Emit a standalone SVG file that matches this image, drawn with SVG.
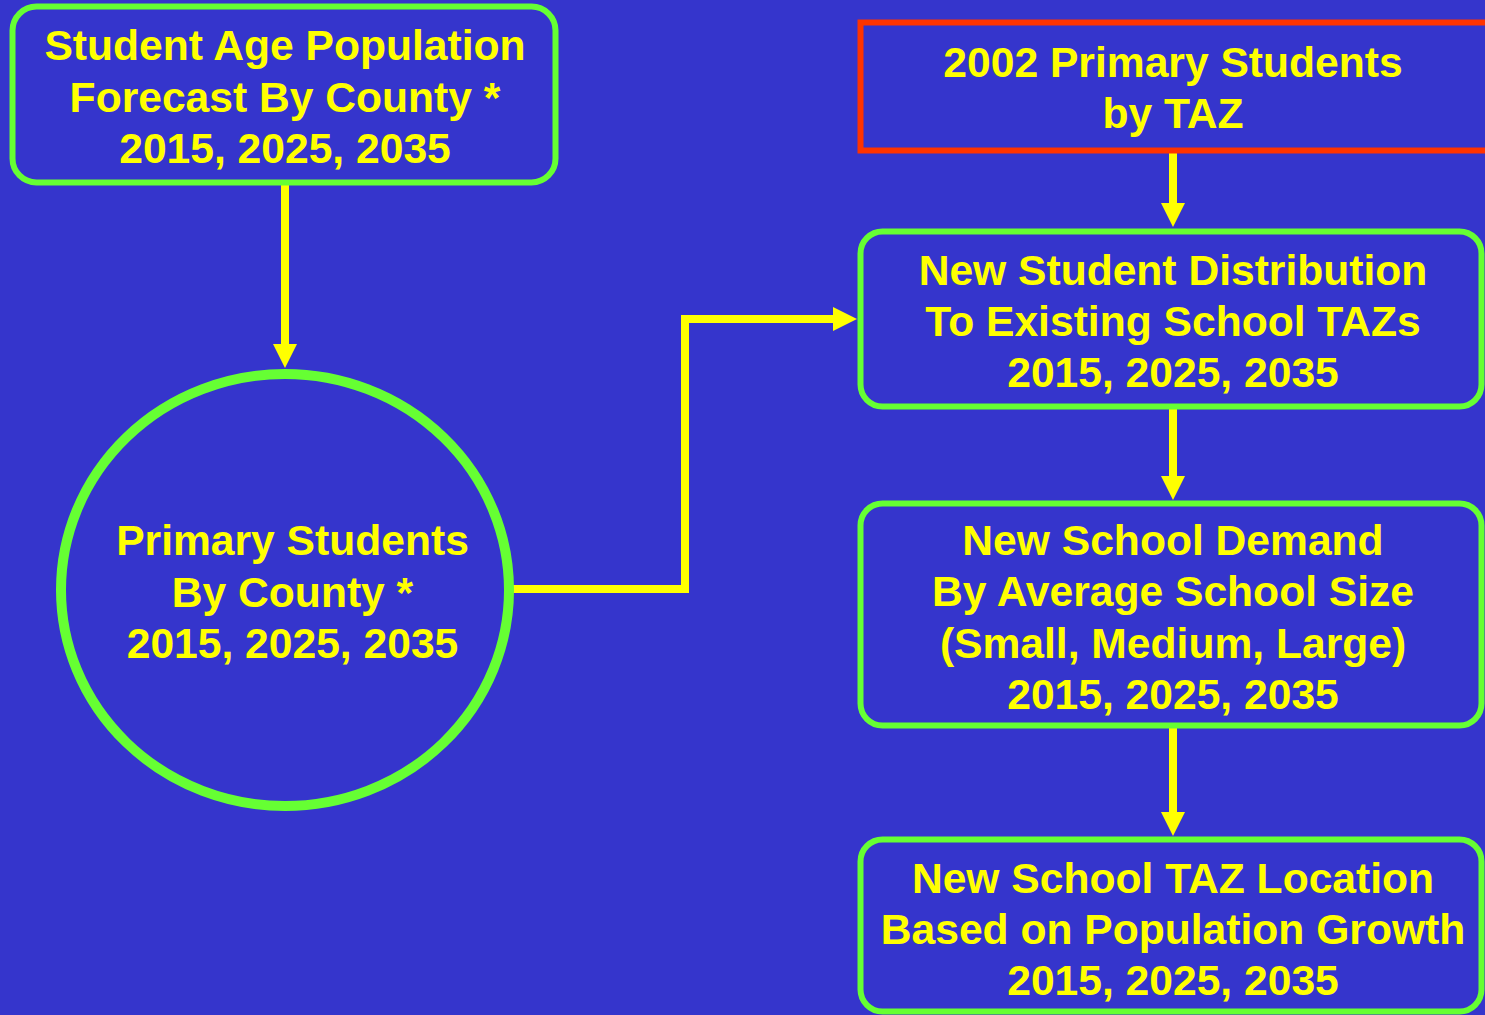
<svg xmlns="http://www.w3.org/2000/svg" width="1485" height="1015" viewBox="0 0 1485 1015">
  <style>
    .box { fill: #3535CC; stroke: #66FF33; stroke-width: 6; }
    .src { fill: #3535CC; stroke: #FF3300; stroke-width: 6; }
    .ring { fill: none; stroke: #66FF33; stroke-width: 10; }
    .lbl { font-family: "Liberation Sans", Arial, sans-serif; font-weight: bold; font-size: 42.6px; fill: #FFFF00; text-anchor: middle; }
    .wire { fill: none; stroke: #FFFF00; stroke-width: 8; stroke-linejoin: miter; }
  </style>
  <defs>
    <!-- arrowhead starts where the wire ends, tip 24px further on -->
    <marker id="head" markerUnits="userSpaceOnUse" markerWidth="26" markerHeight="26" refX="0" refY="12" orient="auto">
      <path d="M0,0 L24,12 L0,24 Z" fill="#FFFF00"/>
    </marker>
  </defs>
  <rect width="1485" height="1015" fill="#3535CC"/>

  <g id="connectors">
    <path class="wire" d="M285,183 V344" marker-end="url(#head)"/>
    <path class="wire" d="M509,589 H685 V319 H833" marker-end="url(#head)"/>
    <path class="wire" d="M1173,152 V203" marker-end="url(#head)"/>
    <path class="wire" d="M1173,407 V476" marker-end="url(#head)"/>
    <path class="wire" d="M1173,727 V812" marker-end="url(#head)"/>
  </g>

  <g id="age-forecast">
    <rect class="box" x="12.5" y="6.5" width="543" height="176" rx="24"/>
    <text class="lbl" x="285" y="60">Student Age Population</text>
    <text class="lbl" x="285" y="112">Forecast By County *</text>
    <text class="lbl" x="285" y="163">2015, 2025, 2035</text>
  </g>

  <g id="primary-by-county">
    <ellipse class="ring" cx="285" cy="590" rx="224" ry="216"/>
    <text class="lbl" x="292.5" y="555">Primary Students</text>
    <text class="lbl" x="292.5" y="607">By County *</text>
    <text class="lbl" x="292.5" y="658">2015, 2025, 2035</text>
  </g>

  <g id="primary-2002">
    <rect class="src" x="860.5" y="22.5" width="630" height="128"/>
    <text class="lbl" x="1173" y="77">2002 Primary Students</text>
    <text class="lbl" x="1173" y="128">by TAZ</text>
  </g>

  <g id="distribution">
    <rect class="box" x="860.5" y="231.5" width="621" height="175" rx="22"/>
    <text class="lbl" x="1173" y="285">New Student Distribution</text>
    <text class="lbl" x="1173" y="336">To Existing School TAZs</text>
    <text class="lbl" x="1173" y="387">2015, 2025, 2035</text>
  </g>

  <g id="school-demand">
    <rect class="box" x="860.5" y="503.5" width="621" height="222" rx="22"/>
    <text class="lbl" x="1173" y="555">New School Demand</text>
    <text class="lbl" x="1173" y="606">By Average School Size</text>
    <text class="lbl" x="1173" y="658">(Small, Medium, Large)</text>
    <text class="lbl" x="1173" y="709">2015, 2025, 2035</text>
  </g>

  <g id="taz-location">
    <rect class="box" x="860.5" y="839.5" width="621" height="172" rx="22"/>
    <text class="lbl" x="1173" y="893">New School TAZ Location</text>
    <text class="lbl" x="1173" y="944">Based on Population Growth</text>
    <text class="lbl" x="1173" y="995">2015, 2025, 2035</text>
  </g>
</svg>
